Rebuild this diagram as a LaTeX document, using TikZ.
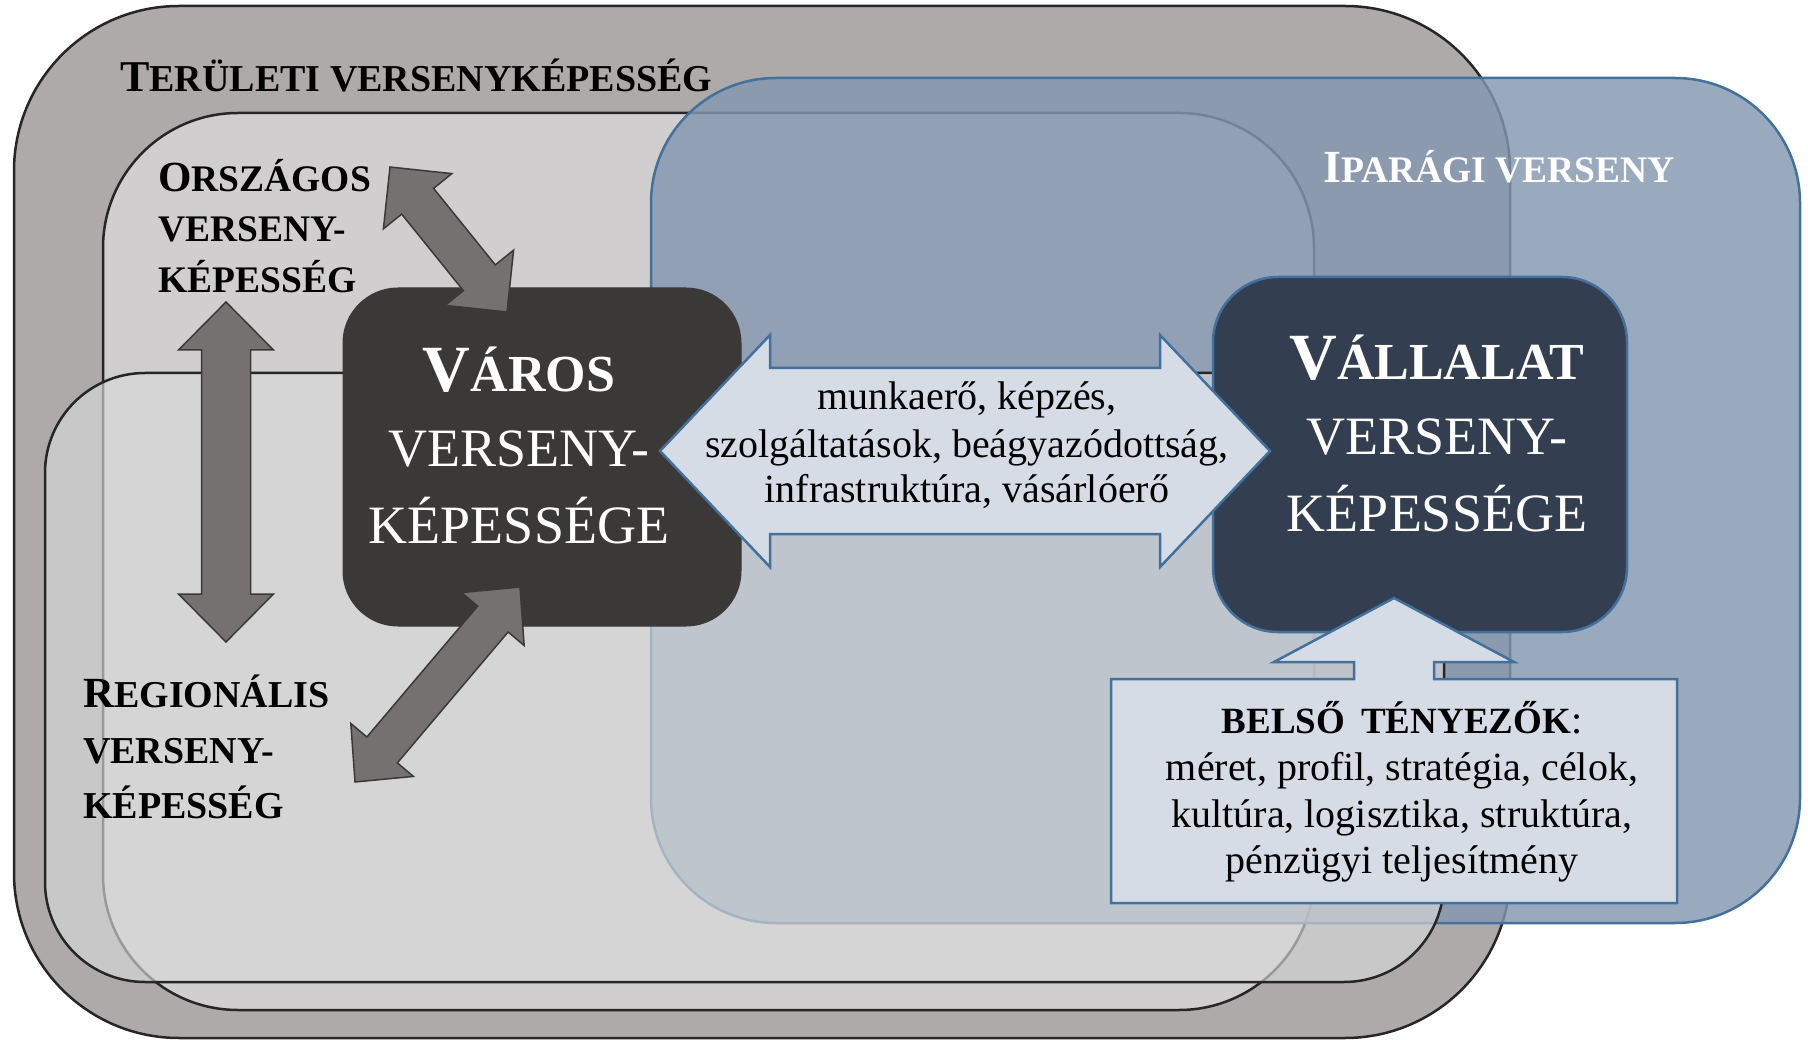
\documentclass[tikz,border=0pt]{standalone}
\usepackage{fontspec}
\setmainfont{Liberation Serif}
\usetikzlibrary{calc}
\definecolor{outergray}{HTML}{AEAAAA}
\definecolor{orszgray}{HTML}{D0CECE}
\definecolor{reggray}{HTML}{D9D9D9}
\definecolor{darkline}{HTML}{262626}
\definecolor{varosfill}{HTML}{3B3838}
\definecolor{vallfill}{HTML}{333F50}
\definecolor{blueline}{HTML}{41719C}
\definecolor{bluefill}{HTML}{8497B0}
\definecolor{lightblue}{HTML}{D6DCE5}
\definecolor{arrowgray}{HTML}{767171}
\definecolor{arrowline}{HTML}{3B3838}
\newcommand{\scword}[4]{{\fontsize{#1}{#1}\selectfont #3}{\fontsize{#2}{#2}\selectfont #4}}
\newcommand{\fatdarrow}[6]{%
  \coordinate (#1-h) at ($(#1)!#3!(#2)$);
  \coordinate (#2-h) at ($(#2)!#3!(#1)$);
  \path[#6] (#1) -- ($(#1-h)!#4!90:(#2)$) -- ($(#1-h)!#5!90:(#2)$)
    -- ($(#2-h)!#5!-90:(#1)$) -- ($(#2-h)!#4!-90:(#1)$) -- (#2)
    -- ($(#2-h)!#4!90:(#1)$) -- ($(#2-h)!#5!90:(#1)$)
    -- ($(#1-h)!#5!-90:(#2)$) -- ($(#1-h)!#4!-90:(#2)$) -- cycle;}
\tikzset{
  region/.style={draw=darkline, line width=2.5pt, inner sep=0pt, outer sep=0pt},
  grayarrow/.style={fill=arrowgray, draw=arrowline, line width=1.5pt, line join=miter},
  bluearrow/.style={fill=lightblue, draw=blueline, line width=2.5pt, line join=miter},
  lbl/.style={inner sep=0pt, anchor=base west, font=\bfseries},
  boxtxt/.style={inner sep=0pt, anchor=base, text=white, font=\fontsize{54}{54}\selectfont},
  bodytxt/.style={inner sep=0pt, anchor=base, font=\fontsize{40}{40}\selectfont}
}
\begin{document}
\begin{tikzpicture}[x=1pt,y=-1pt]
\useasboundingbox (0,0) rectangle (1808,1040);
% regions
\node[region, fill=outergray, rounded corners=165pt, minimum width=1496pt, minimum height=1032pt] (terulet) at (762,522) {};
\node[region, fill=orszgray, rounded corners=135pt, minimum width=1211pt, minimum height=897pt] (orszagos) at (708.5,561.5) {};
\node[region, draw=blueline, fill=bluefill, fill opacity=0.82, rounded corners=125pt, minimum width=1149pt, minimum height=845pt] (iparagi) at (1225.5,500.5) {};
\node[region, fill=reggray, fill opacity=0.65, rounded corners=100pt, minimum width=1399pt, minimum height=609pt] (regionalis) at (744.5,677.5) {};
% boxes
\node[fill=varosfill, draw=varosfill, line width=1pt, rounded corners=55pt, minimum width=398pt, minimum height=338pt, inner sep=0pt] (varos) at (542,457) {};
\node[fill=vallfill, draw=blueline, line width=2.5pt, rounded corners=65pt, minimum width=414pt, minimum height=355pt, inner sep=0pt] (vallalat) at (1420,454.5) {};
% horizontal double arrow
\coordinate (hL) at (660,451);
\coordinate (hR) at (1270,451);
\fatdarrow{hL}{hR}{110pt}{116pt}{83pt}{bluearrow}
% belso callout
\node[minimum width=566pt, minimum height=224pt, inner sep=0pt, outer sep=0pt] (belso) at (1394,791) {};
\coordinate (belsotip) at ($(belso.north)+(0,-81)$);
\draw[bluearrow] (belso.north west) -- ($(belso.north)+(-40,0)$) -- ++(0,-17) -- ++(-80,0) -- (belsotip)
  -- ($(belso.north)+(120,-17)$) -- ++(-80,0) -- ($(belso.north)+(40,0)$) -- (belso.north east)
  -- (belso.south east) -- (belso.south west) -- cycle;
% gray arrows
\coordinate (udA) at (390,167);
\coordinate (udB) at (507,312);
\fatdarrow{udA}{udB}{44pt}{44pt}{20.5pt}{grayarrow}
\coordinate (ldA) at (520,587);
\coordinate (ldB) at (355,782);
\fatdarrow{ldA}{ldB}{42pt}{41pt}{20pt}{grayarrow}
\coordinate (vtA) at (226,302);
\coordinate (vtB) at (226,642);
\fatdarrow{vtA}{vtB}{48pt}{47.5pt}{24.5pt}{grayarrow}
% labels
\node[lbl] (tTitle) at (120,92) {\scword{44}{38}{T}{ERÜLETI VERSENYKÉPESSÉG}};
\node[lbl] (tOrsz1) at (158,192) {\scword{43}{37.5}{O}{RSZÁGOS}};
\node[lbl] (tOrsz2) at (158,242) {\fontsize{37.5}{37.5}\selectfont VERSENY-};
\node[lbl] (tOrsz3) at (158,293) {\fontsize{37.5}{37.5}\selectfont KÉPESSÉG};
\node[lbl] (tReg1) at (83,707) {\scword{43}{38}{R}{EGIONÁLIS}};
\node[lbl] (tReg2) at (83,763) {\fontsize{38}{38}\selectfont VERSENY-};
\node[lbl] (tReg3) at (83,818) {\fontsize{38}{38}\selectfont KÉPESSÉG};
\node[lbl, text=white] (tIpar) at (1323,183) {\scword{46}{37.5}{I}{PARÁGI VERSENY}};
% box texts
\node[boxtxt] (tVar1) at (519,392) {\bfseries\scword{66}{52}{V}{ÁROS}};
\node[boxtxt] (tVar2) at (519,467) {VERSENY-};
\node[boxtxt] (tVar3) at (519,543) {KÉPESSÉGE};
\node[boxtxt] (tVal1) at (1437,380) {\bfseries\scword{66}{52}{V}{ÁLLALAT}};
\node[boxtxt] (tVal2) at (1437,455) {VERSENY-};
\node[boxtxt] (tVal3) at (1437,531) {KÉPESSÉGE};
% arrow text
\node[bodytxt] (tArr1) at (967,410) {munkaerő, képzés,};
\node[bodytxt] (tArr2) at (967,457) {szolgáltatások, beágyazódottság,};
\node[bodytxt] (tArr3) at (967,502) {infrastruktúra, vásárlóerő};
% belso text
\node[bodytxt] (tBel1) at (1402,733) {{\bfseries\fontsize{37}{37}\selectfont BELSŐ\hspace{16pt}TÉNYEZŐK}:};
\node[bodytxt] (tBel2) at (1402,780) {méret, profil, stratégia, célok,};
\node[bodytxt] (tBel3) at (1402,827) {kultúra, logisztika, struktúra,};
\node[bodytxt] (tBel4) at (1402,873) {pénzügyi teljesítmény};
\end{tikzpicture}
\end{document}
